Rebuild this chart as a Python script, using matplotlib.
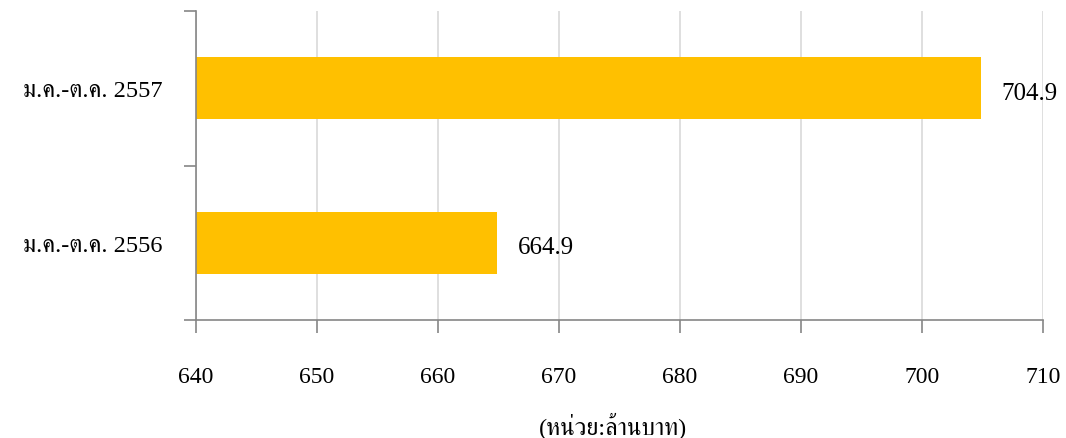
import matplotlib
matplotlib.use("Agg")
import matplotlib.pyplot as plt
from matplotlib import font_manager
from matplotlib.ft2font import FT2Font

# ยอดรวม ม.ค.-ต.ค. (ล้านบาท)
categories = ["ม.ค.-ต.ค. 2556", "ม.ค.-ต.ค. 2557"]
values = [664.9, 704.9]
x_ticks = [640, 650, 660, 670, 680, 690, 700, 710]


def thai_families():
    # ฟอนต์ที่มีอักษรไทย (ค) ให้ใช้แทนเมื่อ Liberation Serif ไม่มี
    found = []
    for f in font_manager.fontManager.ttflist:
        try:
            if ord("ค") in FT2Font(f.fname).get_charmap() and f.name not in found:
                found.append(f.name)
        except Exception:
            pass
    serif = [n for n in found if "serif" in n.lower() and "sans" not in n.lower()]
    return serif + [n for n in found if n not in serif]


fonts = ["Liberation Serif"] + thai_families() + ["DejaVu Sans"]
plt.rcParams["font.family"] = fonts

fig = plt.figure(figsize=(10.66, 4.39), dpi=100)
ax = fig.add_axes([196 / 1066, 1 - 321 / 439, (1043 - 196) / 1066, (321 - 12) / 439])

pos = list(range(len(categories)))
ax.barh(pos, values, height=0.4, color="#FFC000", zorder=2)
for p, v in zip(pos, values):
    ax.text(v + 1.7, p - 0.03, f"{v:.1f}", va="center", ha="left", fontsize=18)

ax.set_xlim(640, 710)
ax.set_ylim(-0.5, 1.5)
ax.set_xticks(x_ticks)
ax.set_xticklabels([str(t) for t in x_ticks], fontsize=17)
ax.tick_params(axis="x", length=9, width=1.2, color="#868686", pad=24)
ax.grid(axis="x", color="#D9D9D9", linewidth=1.2, zorder=0)

# ขีดแบ่งหมวดบนแกน y และป้ายชื่อไว้กึ่งกลาง
ax.set_yticks([-0.5, 0.5, 1.5])
ax.set_yticklabels([])
ax.tick_params(axis="y", which="major", length=9, width=1.2, color="#868686")
ax.set_yticks(pos, minor=True)
ax.set_yticklabels(categories, minor=True, fontsize=17.5)
ax.tick_params(axis="y", which="minor", length=0, pad=24)

for s in ["top", "right"]:
    ax.spines[s].set_visible(False)
for s in ["left", "bottom"]:
    ax.spines[s].set_color("#868686")
    ax.spines[s].set_linewidth(1.2)

ax.set_xlabel("(หน่วย:ล้านบาท)", fontsize=17.5)
ax.xaxis.set_label_coords(0.492, -0.34)
ax.xaxis.label.set_verticalalignment("center")

fig.savefig("out.png", dpi=100)
